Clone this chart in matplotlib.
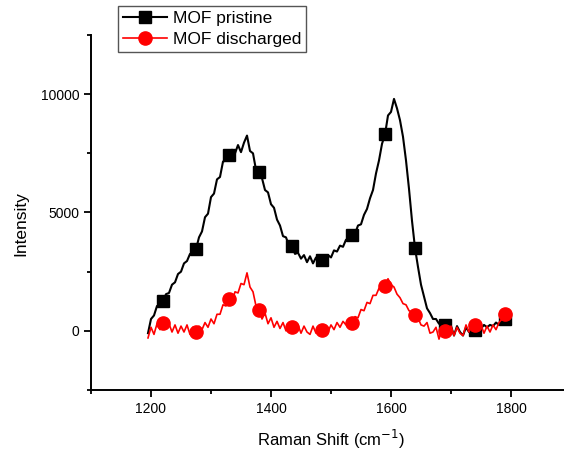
import numpy as np
import matplotlib
matplotlib.use('Agg')
import matplotlib.pyplot as plt
from matplotlib.ticker import MultipleLocator

plt.rcParams['font.family'] = ['Liberation Sans', 'DejaVu Sans']

# Raman shift grid (cm-1), 5 cm-1 steps from 1195 to 1790
shift = np.arange(1195, 1795, 5)

pristine = [-100, 500, 650, 1050, 1050, 1250, 1550, 1600, 1950, 2050,
            2400, 2500, 2850, 2950, 3250, 3300, 3450, 3950, 4200, 4800,
            4950, 5650, 5800, 6400, 6500, 7150, 7200, 7450, 7650, 7500,
            7850, 7550, 7950, 8250, 7600, 7500, 6800, 6700, 6450, 5950,
            5850, 5350, 5200, 4700, 4450, 4000, 3950, 3600, 3600, 3250,
            3300, 3050, 3200, 2900, 3150, 2850, 3100, 2900, 3000, 2950,
            3200, 3100, 3400, 3350, 3600, 3550, 3850, 3800, 4050, 4100,
            4450, 4500, 4900, 5150, 5600, 5950, 6650, 7200, 7900, 8300,
            9100, 9250, 9800, 9400, 8900, 8200, 7200, 6000, 4650, 3500,
            2700, 1950, 1450, 950, 750, 500, 500, 300, 400, 250,
            100, 200, -200, 200, -50, -200, 150, -50, 250, 50,
            300, 100, 250, 150, 250, 200, 350, 250, 450, 500]

discharged = [-300, 150, -150, 300, 50, 350, 100, 300, -50, 250,
              -100, 200, -50, 250, -150, 150, -50, 200, 50, 350,
              150, 500, 300, 700, 700, 1100, 1050, 1350, 1200, 1650,
              1600, 2000, 1950, 2450, 1850, 1650, 1050, 900, 500, 750,
              300, 550, 150, 400, 100, 350, 0, 300, 150, -50,
              250, -100, 200, -50, -150, 200, -100, 150, 50, 200,
              -50, 250, 50, 350, 150, 400, 250, 500, 350, 600,
              550, 900, 850, 1200, 1150, 1500, 1500, 1800, 1750, 1900,
              2200, 1950, 1850, 1550, 1400, 1150, 1100, 850, 800, 650,
              550, 250, 200, 350, -100, -50, 150, -350, 100, 0,
              -250, 200, -200, 150, -100, -200, 250, -50, 350, 250,
              0, 250, -100, 200, -50, 250, 50, 350, 500, 700]

# sample indices that carry a symbol
marks = [5, 16, 27, 37, 48, 58, 68, 79, 89, 99, 109, 119]

fig = plt.figure(figsize=(5.64, 4.57), dpi=100)
ax = fig.add_axes([91 / 564, 67 / 457, 480 / 564, 355 / 457])

ax.plot(shift, pristine, color='black', lw=1.5, marker='s', ms=8.5,
        markevery=marks, label='MOF pristine')
ax.plot(shift, discharged, color='red', lw=1.2, marker='o', ms=9.5,
        markevery=marks, label='MOF discharged')

ax.set_xlim(1100, 1900)
ax.set_ylim(-2500, 12500)
ax.xaxis.set_major_locator(MultipleLocator(200))
ax.xaxis.set_minor_locator(MultipleLocator(100))
ax.yaxis.set_major_locator(MultipleLocator(5000))
ax.yaxis.set_minor_locator(MultipleLocator(2500))
ax.tick_params(which='major', direction='out', length=5, width=1.3, labelsize=10)
ax.tick_params(which='minor', direction='out', length=3, width=1.3)

for side in ('top', 'right'):
    ax.spines[side].set_visible(False)
for side in ('left', 'bottom'):
    ax.spines[side].set_linewidth(1.4)

ax.set_xlabel('Raman Shift (cm$^{-1}$)', fontsize=12, labelpad=9)
ax.set_ylabel('Intensity', fontsize=12.5)
ax.yaxis.set_label_coords(-0.131, 0.47)

leg = ax.legend(loc='upper left', bbox_to_anchor=(118 / 564, 1 - 6 / 457),
                bbox_transform=fig.transFigure, borderaxespad=0,
                fontsize=12.5, frameon=True, fancybox=False, framealpha=1,
                edgecolor='#555555', borderpad=0.3, labelspacing=0.32,
                handlelength=2.5, handletextpad=0.35)
leg.get_frame().set_linewidth(1.0)

fig.savefig('out.png', dpi=100)
